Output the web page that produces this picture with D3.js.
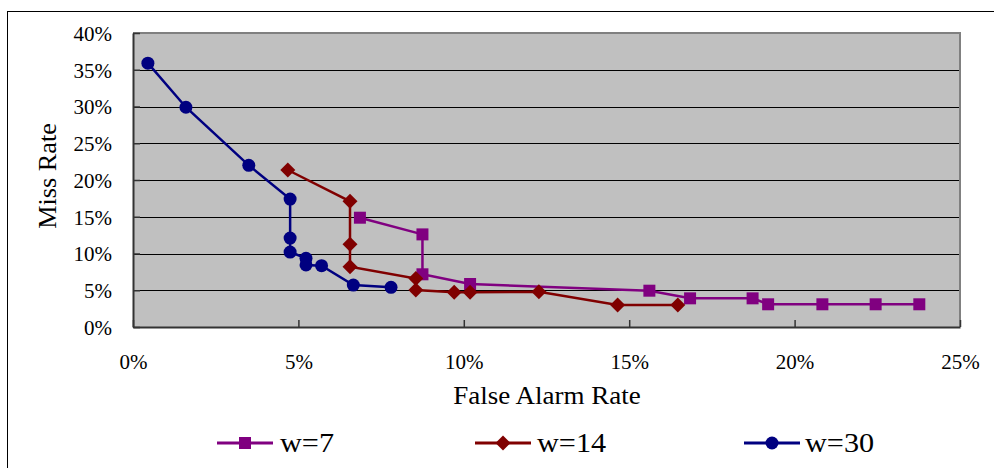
<!DOCTYPE html>
<html><head><meta charset="utf-8">
<script src="https://cdn.jsdelivr.net/npm/d3@7"></script>
<style>body{margin:0;background:#fff;} svg{display:block;}</style>
</head><body>
<svg id="c" width="994" height="468"></svg>
<script>
const seriesNames = ["w=7", "w=14", "w=30"];
const w7x = [6.86, 8.75, 8.75, 10.19, 15.61, 16.84, 18.73, 19.2, 20.84, 22.45, 23.77];
const w7y = [14.87, 12.6, 7.17, 5.85, 4.94, 3.9, 3.9, 3.09, 3.09, 3.09, 3.09];
const w14x = [4.68, 6.56, 6.56, 6.56, 8.55, 8.55, 9.71, 10.19, 12.27, 14.65, 16.47];
const w14y = [21.36, 17.1, 11.25, 8.2, 6.6, 5.03, 4.72, 4.72, 4.8, 2.99, 2.99];
const w30x = [0.45, 1.6, 3.5, 4.75, 4.75, 4.75, 5.23, 5.23, 5.7, 6.66, 7.8];
const w30y = [35.9, 29.9, 22.0, 17.4, 12.1, 10.2, 9.35, 8.44, 8.34, 5.71, 5.4];
const xTicks = [0, 5, 10, 15, 20, 25];
const yTicks = [0, 5, 10, 15, 20, 25, 30, 35, 40];
const colors = ["#800080", "#800000", "#000080"];

// true (square) diamond
const symDiamond = {draw(ctx, size){ const r = Math.sqrt(size/2);
  ctx.moveTo(0,-r); ctx.lineTo(r,0); ctx.lineTo(0,r); ctx.lineTo(-r,0); ctx.closePath(); }};
const shapes = [d3.symbolSquare, symDiamond, d3.symbolCircle];
const sizes = [144, 112, 133];

const series = [
  {name: seriesNames[0], pts: w7x.map((x,i)=>[x,w7y[i]])},
  {name: seriesNames[1], pts: w14x.map((x,i)=>[x,w14y[i]])},
  {name: seriesNames[2], pts: w30x.map((x,i)=>[x,w30y[i]])}
];

const svg = d3.select("#c");
const font = "'Liberation Serif', 'DejaVu Serif', serif";
const L = 133, R = 960, T = 33, B = 327;
const x = d3.scaleLinear().domain([0,25]).range([L,R]);
const y = d3.scaleLinear().domain([0,40]).range([B,T]);

function widen(sel, f){ sel.each(function(){ const n=this.getComputedTextLength();
  d3.select(this).attr("textLength", n*f).attr("lengthAdjust","spacingAndGlyphs"); }); }

// outer frame
svg.append("rect").attr("x",7.5).attr("y",11.5).attr("width",1000).attr("height",500)
  .attr("fill","none").attr("stroke","#000").attr("stroke-width",1);

// plot bg
svg.append("rect").attr("x",L).attr("y",T).attr("width",R-L).attr("height",B-T)
  .attr("fill","#c0c0c0");
// gridlines
svg.append("g").selectAll("line").data(yTicks.filter(d=>d>0 && d<40)).join("line")
  .attr("x1",L).attr("x2",R).attr("y1",d=>Math.round(y(d))+0.5).attr("y2",d=>Math.round(y(d))+0.5)
  .attr("stroke","#000").attr("stroke-width",1);
// plot border top/right gray
svg.append("path").attr("d",`M${L},${T} L${R},${T} L${R},${B}`)
  .attr("fill","none").attr("stroke","#808080").attr("stroke-width",2);

// axes
const fmt = d=>d+"%";
const yAxis = svg.append("g").attr("transform",`translate(${L},0)`)
  .call(d3.axisLeft(y).tickValues(yTicks).tickFormat(fmt).tickSizeInner(-7).tickSizeOuter(0).tickPadding(21));
const xAxis = svg.append("g").attr("transform",`translate(0,${B})`)
  .call(d3.axisBottom(x).tickValues(xTicks).tickFormat(fmt).tickSizeInner(-7).tickSizeOuter(0).tickPadding(27));
[yAxis,xAxis].forEach(a=>{
  a.select(".domain").attr("stroke","#333").attr("stroke-width",2);
  a.selectAll(".tick line").attr("stroke","#333").attr("stroke-width",1.5);
  a.selectAll("text").attr("font-family",font).attr("font-size",21).attr("fill","#000");
});
yAxis.selectAll("text").attr("dy","0.35em");
xAxis.selectAll("text").attr("dy","0").attr("y",42);

// axis titles
svg.append("text").attr("x",547).attr("y",404).attr("text-anchor","middle")
  .attr("font-family",font).attr("font-size",25).text("False Alarm Rate").call(widen,1.08);
svg.append("text").attr("transform","translate(56,176) rotate(-90)").attr("text-anchor","middle")
  .attr("font-family",font).attr("font-size",25).text("Miss Rate").call(widen,1.05);

// series
const line = d3.line().x(d=>x(d[0])).y(d=>y(d[1]));
series.forEach((s,i)=>{
  svg.append("path").attr("d",line(s.pts)).attr("fill","none")
    .attr("stroke",colors[i]).attr("stroke-width",2.5);
  svg.append("g").selectAll("path").data(s.pts).join("path")
    .attr("transform",d=>`translate(${x(d[0])},${y(d[1])})`)
    .attr("d",d3.symbol().type(shapes[i]).size(sizes[i]))
    .attr("fill",colors[i]);
});

// legend
const legX = [217, 475, 744];
const legTx = [280, 537, 805];
series.forEach((s,i)=>{
  const g = svg.append("g").attr("transform",`translate(${legX[i]},443)`);
  g.append("line").attr("x1",0).attr("x2",56).attr("y1",0).attr("y2",0)
    .attr("stroke",colors[i]).attr("stroke-width",3);
  g.append("path").attr("transform","translate(28,0)")
    .attr("d",d3.symbol().type(shapes[i]).size(sizes[i])).attr("fill",colors[i]);
  svg.append("text").attr("x",legTx[i]).attr("y",443).attr("dy","0.35em")
    .attr("font-family",font).attr("font-size",27).text(s.name).call(widen,1.12);
});
</script>
</body></html>
